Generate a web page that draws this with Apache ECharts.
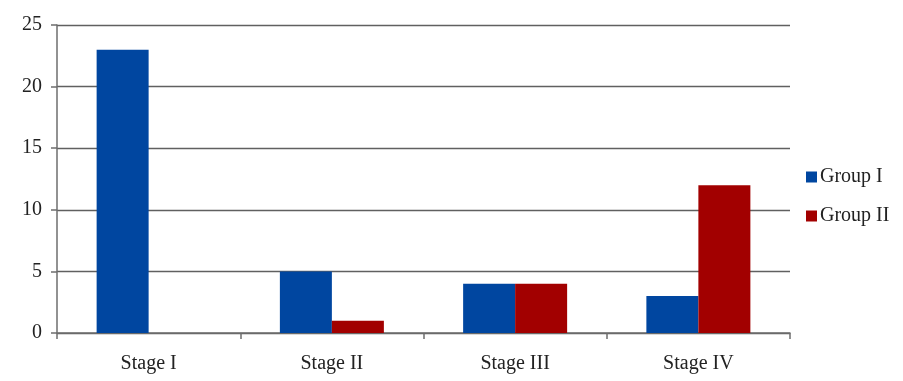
<!DOCTYPE html>
<html><head><meta charset="utf-8">
<script src="https://cdn.jsdelivr.net/npm/echarts@6/dist/echarts.min.js"></script>
<style>html,body{margin:0;padding:0;background:#fff}#c{width:903px;height:381px}</style>
</head><body><div id="c"></div>
<script>
const categories = ['Stage I', 'Stage II', 'Stage III', 'Stage IV'];
const groupI = [23, 5, 4, 3];
const groupII = [0, 1, 4, 12];
const seriesNames = ['Group I', 'Group II'];
const yTicks = { min: 0, max: 25, interval: 5 };

const font = '"Liberation Serif", "DejaVu Serif", serif';
const chart = echarts.init(document.getElementById('c'));
chart.setOption({
  animation: false,
  backgroundColor: '#fff',
  grid: { left: 57, right: 113, top: 25, bottom: 48, containLabel: false },
  legend: {
    orient: 'vertical', left: 801, top: 162,
    itemWidth: 11, itemHeight: 11, itemGap: 19,
    icon: 'rect',
    textStyle: { fontFamily: font, fontSize: 20, color: '#222', padding: [0,0,0,-2] },
    data: seriesNames
  },
  xAxis: {
    type: 'category', data: categories,
    axisLine: { lineStyle: { color: '#6e6e6e', width: 1.5 } },
    axisTick: { show: true, length: 6, alignWithLabel: false, lineStyle: { color: '#6e6e6e', width: 1.5 } },
    axisLabel: { fontFamily: font, fontSize: 20, color: '#222', margin: 21 }
  },
  yAxis: {
    type: 'value', min: yTicks.min, max: yTicks.max, interval: yTicks.interval,
    axisLine: { show: true, lineStyle: { color: '#6e6e6e', width: 1.5 } },
    axisTick: { show: true, length: 6, lineStyle: { color: '#6e6e6e', width: 1.5 } },
    axisLabel: { fontFamily: font, fontSize: 20, color: '#222', margin: 15 },
    splitLine: { lineStyle: { color: '#606060', width: 1.3 } }
  },
  series: [
    { name: seriesNames[0], type: 'bar', data: groupI, barWidth: 52, barGap: '0%', itemStyle: { color: '#0046A0' } },
    { name: seriesNames[1], type: 'bar', data: groupII, barWidth: 52, barGap: '0%', itemStyle: { color: '#A20000' } }
  ]
});
</script></body></html>
